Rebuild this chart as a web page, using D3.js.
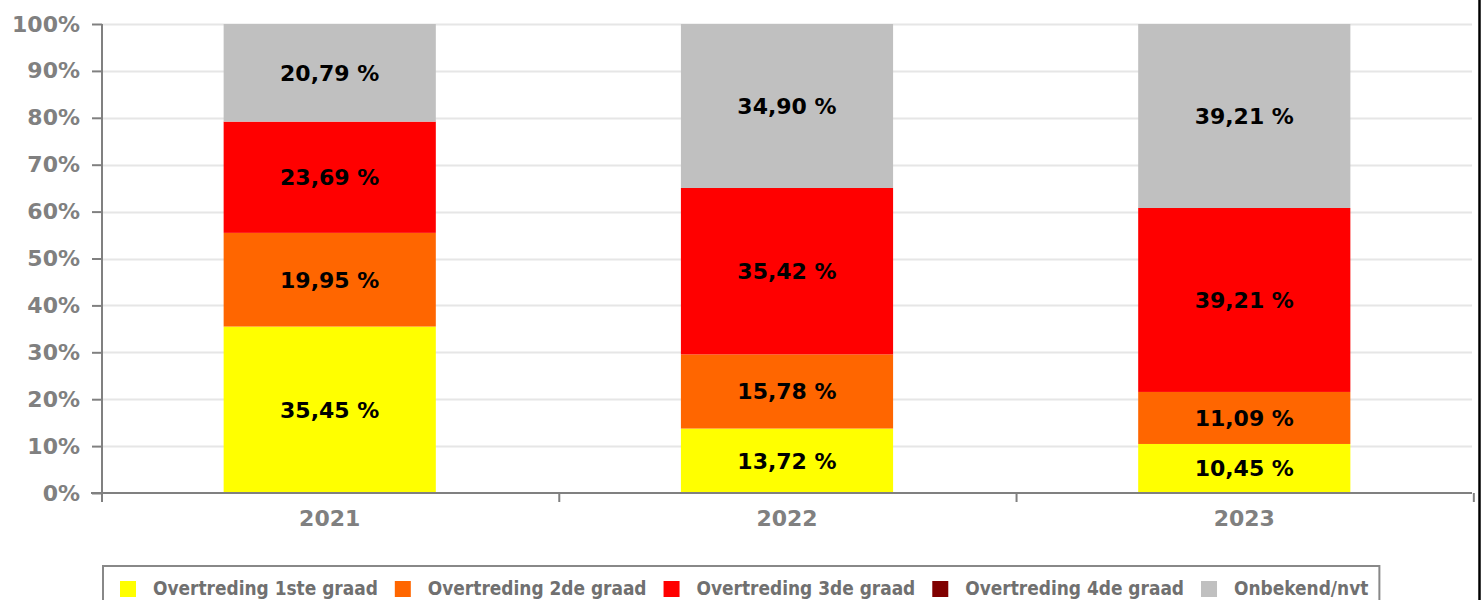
<!DOCTYPE html>
<html>
<head>
<meta charset="utf-8">
<script src="https://cdn.jsdelivr.net/npm/d3@7"></script>
<style>
  body { margin: 0; background: #fff; }
  svg { display: block; }
  .tick-label { font-family: "DejaVu Sans"; font-weight: bold; font-size: 22px; fill: #808080; }
  .val { font-family: "DejaVu Sans"; font-weight: bold; font-size: 22px; fill: #000; }
  .leg { font-family: "DejaVu Sans Condensed", "DejaVu Sans"; font-stretch: condensed; font-weight: bold; font-size: 18.9px; fill: #707070; }
</style>
</head>
<body>
<svg id="chart" width="1484" height="600"></svg>
<script>
// data (percent)
var years = ["2021", "2022", "2023"];
var series = ["Overtreding 1ste graad", "Overtreding 2de graad", "Overtreding 3de graad", "Overtreding 4de graad", "Onbekend/nvt"];
var colours = ["#ffff00", "#ff6600", "#ff0000", "#800000", "#c0c0c0"];
var graad1 = [35.45, 13.72, 10.45];
var graad2 = [19.95, 15.78, 11.09];
var graad3 = [23.69, 35.42, 39.21];
var graad4 = [0, 0, 0];
var onbekend = [20.79, 34.90, 39.21];
var yTicks = [0, 0.1, 0.2, 0.3, 0.4, 0.5, 0.6, 0.7, 0.8, 0.9, 1];

var svg = d3.select("#chart");
var plotLeft = 102, plotRight = 1472, plotTop = 24, plotBottom = 493;

var rows = years.map(function(yr, i) {
  var r = { year: yr };
  r[series[0]] = graad1[i];
  r[series[1]] = graad2[i];
  r[series[2]] = graad3[i];
  r[series[3]] = graad4[i];
  r[series[4]] = onbekend[i];
  return r;
});

var stacked = d3.stack().keys(series).offset(d3.stackOffsetExpand)(rows);

var x = d3.scaleBand().domain(years).range([plotLeft, plotRight]).paddingInner(0.536).paddingOuter(0.266);
var y = d3.scaleLinear().domain([0, 1]).range([plotBottom, plotTop]);

// right border of the image
svg.append("line").attr("x1", 1479.5).attr("x2", 1479.5).attr("y1", 0).attr("y2", 600)
  .attr("stroke", "#000").attr("stroke-width", 2.5);

// gridlines
svg.append("g").selectAll("line").data(yTicks.slice(1)).enter().append("line")
  .attr("x1", plotLeft).attr("x2", plotRight)
  .attr("y1", function(d) { return Math.round(y(d)) + 0.5; })
  .attr("y2", function(d) { return Math.round(y(d)) + 0.5; })
  .attr("stroke", "#e6e6e6").attr("stroke-width", 2);

// bars
var layer = svg.append("g").selectAll("g").data(stacked).enter().append("g")
  .attr("fill", function(d, i) { return colours[i]; });

layer.selectAll("rect").data(function(d) { return d; }).enter().append("rect")
  .attr("x", function(d) { return x(d.data.year); })
  .attr("width", x.bandwidth())
  .attr("y", function(d) { return y(d[1]); })
  .attr("height", function(d) { return y(d[0]) - y(d[1]); });

// value labels
var fmt = function(v) { return d3.format(".2f")(v).replace(".", ",") + " %"; };
stacked.forEach(function(s) {
  svg.append("g").selectAll("text").data(s.filter(function(d) { return d.data[s.key] > 0; })).enter().append("text")
    .attr("class", "val")
    .attr("x", function(d) { return x(d.data.year) + x.bandwidth() / 2; })
    .attr("y", function(d) { return (y(d[0]) + y(d[1])) / 2; })
    .attr("dy", "0.36em")
    .attr("text-anchor", "middle")
    .text(function(d) { return fmt(d.data[s.key]); });
});

// axes
var axisCol = "#808080";
var yAxis = svg.append("g").attr("transform", "translate(" + plotLeft + ",0)")
  .call(d3.axisLeft(y).tickValues(yTicks).tickFormat(d3.format(".0%")).tickSize(10).tickPadding(12));
yAxis.select(".domain").remove();
yAxis.selectAll(".tick line").attr("stroke", axisCol).attr("stroke-width", 2);
yAxis.selectAll(".tick text").attr("class", "tick-label").attr("fill", null).attr("font-size", null).attr("font-family", null);
yAxis.attr("font-size", null).attr("font-family", null);
yAxis.append("line").attr("x1", 0).attr("x2", 0).attr("y1", plotTop).attr("y2", plotBottom + 9)
  .attr("stroke", axisCol).attr("stroke-width", 2);

svg.append("line").attr("x1", 91).attr("x2", plotRight).attr("y1", plotBottom).attr("y2", plotBottom)
  .attr("stroke", axisCol).attr("stroke-width", 2);

var step = x.step();
svg.append("g").selectAll("line").data(d3.range(years.length + 1)).enter().append("line")
  .attr("x1", function(i) { return plotLeft + i * step; })
  .attr("x2", function(i) { return plotLeft + i * step; })
  .attr("y1", plotBottom).attr("y2", plotBottom + 9)
  .attr("stroke", axisCol).attr("stroke-width", 2);

svg.append("g").selectAll("text").data(years).enter().append("text")
  .attr("class", "tick-label")
  .attr("x", function(d) { return x(d) + x.bandwidth() / 2; })
  .attr("y", 526)
  .attr("text-anchor", "middle")
  .text(function(d) { return d; });

// legend
var legend = svg.append("g");
var legBox = legend.append("rect").attr("x", 103).attr("y", 566).attr("height", 60)
  .attr("fill", "none").attr("stroke", "#888").attr("stroke-width", 2);
var lx = 120;
series.forEach(function(s, i) {
  legend.append("rect").attr("x", lx).attr("y", 581).attr("width", 16).attr("height", 16)
    .attr("fill", colours[i]);
  var t = legend.append("text").attr("class", "leg").attr("x", lx + 33).attr("y", 595).text(s);
  lx = lx + 33 + t.node().getComputedTextLength() + 17;
});
legBox.attr("width", lx - 17 + 11 - 103);
</script>
</body>
</html>
